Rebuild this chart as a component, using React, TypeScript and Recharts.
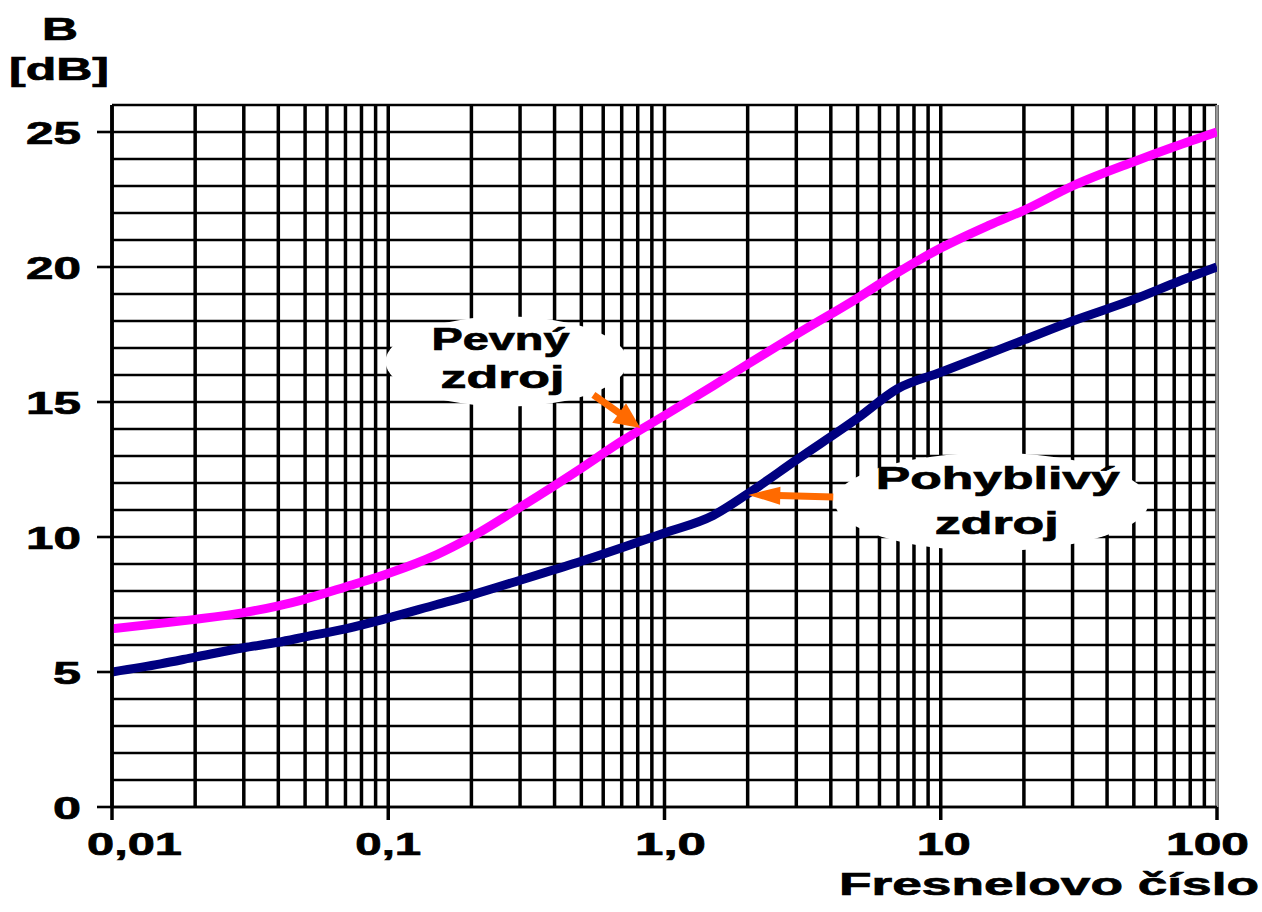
import { LineChart, Line, XAxis, YAxis, CartesianGrid, ReferenceDot, ReferenceLine } from 'recharts';

// Fresnel number (x) and barrier attenuation B in dB for both source types
const fresnel = [0.01, 0.015, 0.02, 0.03, 0.04, 0.05, 0.07, 0.1, 0.15, 0.2, 0.3, 0.5, 0.7, 1, 1.5, 2, 3, 5, 7, 10, 15, 20, 30, 50, 70, 100];
const pevnyZdroj = [6.6, 6.8, 6.95, 7.2, 7.45, 7.7, 8.15, 8.65, 9.35, 10.0, 11.1, 12.55, 13.55, 14.5, 15.6, 16.4, 17.5, 18.85, 19.8, 20.7, 21.55, 22.1, 23.0, 23.9, 24.45, 25.0];
const pohyblivyZdroj = [5.0, 5.3, 5.55, 5.9, 6.1, 6.3, 6.6, 7.0, 7.5, 7.85, 8.4, 9.1, 9.6, 10.15, 10.8, 11.6, 12.85, 14.4, 15.5, 16.1, 16.8, 17.3, 18.0, 18.8, 19.4, 20.0];

// log paper grid
const xGridTicks = [
  0.01, 0.02, 0.03, 0.04, 0.05, 0.06, 0.07, 0.08, 0.09,
  0.1, 0.2, 0.3, 0.4, 0.5, 0.6, 0.7, 0.8, 0.9,
  1, 2, 3, 4, 5, 6, 7, 8, 9,
  10, 20, 30, 40, 50, 60, 70, 80, 90,
  100,
];
const xLabelValues = [0.01, 0.1, 1, 10, 100];
const xLabels = ['0,01', '0,1', '1,0', '10', '100'];
const yGridTicks = [0, 1, 2, 3, 4, 5, 6, 7, 8, 9, 10, 11, 12, 13, 14, 15, 16, 17, 18, 19, 20, 21, 22, 23, 24, 25, 26];
const yLabelValues = [0, 5, 10, 15, 20, 25];

const data = fresnel.map((f, i) => ({ f, pevny: pevnyZdroj[i], pohyblivy: pohyblivyZdroj[i] }));

const FONT = '"Liberation Sans", Arial, sans-serif';
const ORANGE = '#ff6a00';

// the original scan is stretched sideways, so text widths are forced with textLength
function Stretch({ x, y, w, anchor = 'middle', size = 32, children }: any) {
  return (
    <text x={x} y={y} textAnchor={anchor} fontFamily={FONT} fontWeight="bold" fontSize={size} fill="#000"
      stroke="#000" strokeWidth={0.7} textLength={w} lengthAdjust="spacingAndGlyphs">
      {children}
    </text>
  );
}

const xLabelWidths = [95, 66, 71, 54, 83];
function XTick({ x, y, payload }: any) {
  const i = xLabelValues.findIndex(v => Math.abs(v - payload.value) < 1e-9);
  if (i < 0) return <g />;
  let anchor = 'middle', lx = x;
  if (i === 0) { anchor = 'start'; lx = x - 25; }
  else if (i === xLabels.length - 1) { anchor = 'end'; lx = x + 32; }
  else if (i === 2) lx = x + 6;
  else if (i === 3) lx = x + 3;
  return (
    <g>
      <line x1={x} x2={x} y1={y} y2={y + 13} stroke="#000" strokeWidth={3.5} />
      <Stretch x={lx} y={y + 48} w={xLabelWidths[i]} anchor={anchor}>{xLabels[i]}</Stretch>
    </g>
  );
}

function YTick({ x, y, payload }: any) {
  if (!yLabelValues.includes(payload.value)) return <g />;
  const s = String(payload.value);
  return (
    <g>
      <line x1={x - 15} x2={x} y1={y} y2={y} stroke="#000" strokeWidth={2.6} />
      <Stretch x={x - 31} y={y + 11.5} w={s.length === 2 ? 55 : 28} anchor="end">{s}</Stretch>
    </g>
  );
}

function Bubble({ cx, cy, rx, ry, lines }: any) {
  return (
    <g>
      <ellipse cx={cx} cy={cy} rx={rx} ry={ry} fill="#fff" />
      {lines.map((l: any, k: number) => (
        <Stretch key={k} x={cx + l.dx} y={cy + l.dy} w={l.w} size={31}>{l.t}</Stretch>
      ))}
    </g>
  );
}

function Arrow({ cx, cy, tx, ty, head, half }: any) {
  const len = Math.hypot(tx, ty);
  const ux = -tx / len, uy = -ty / len;
  const bx = cx - ux * head, by = cy - uy * head;
  const px = -uy, py = ux;
  return (
    <g>
      <line x1={cx + tx} y1={cy + ty} x2={bx + ux * 2} y2={by + uy * 2} stroke={ORANGE} strokeWidth={7} />
      <polygon points={`${cx},${cy} ${bx + px * half},${by + py * half} ${bx - px * half},${by - py * half}`} fill={ORANGE} />
    </g>
  );
}

export default function App() {
  return (
    <div style={{ position: 'absolute', left: 0, top: 0, width: 1262, height: 912, background: '#fff' }}>
      <LineChart width={1262} height={912} data={data} margin={{ top: 105, right: 45, bottom: 45, left: 0 }}>
        <CartesianGrid horizontal={false} stroke="#000" strokeWidth={3.5} />
        <CartesianGrid vertical={false} stroke="#000" strokeWidth={2.6} />
        <XAxis dataKey="f" type="number" scale="log" domain={[0.01, 100]} ticks={xGridTicks} interval={0}
          allowDataOverflow height={60} tickSize={0} tickMargin={0} tickLine={false}
          axisLine={{ stroke: '#000', strokeWidth: 2.6 }} tick={<XTick />} />
        <YAxis type="number" domain={[0, 26]} ticks={yGridTicks} interval={0} width={112}
          tickSize={0} tickMargin={0} tickLine={false}
          axisLine={{ stroke: '#000', strokeWidth: 3.5 }} tick={<YTick />} />
        <ReferenceLine x={100} stroke="#9a9a9a" strokeWidth={3} />
        <Line dataKey="pevny" type="monotone" stroke="#ff00ff" strokeWidth={9} dot={false} isAnimationActive={false} />
        <Line dataKey="pohyblivy" type="monotone" stroke="#000080" strokeWidth={9} dot={false} isAnimationActive={false} />
        <ReferenceDot x={0.268} y={16.5} r={1}
          shape={(p: any) => <Bubble cx={p.cx} cy={p.cy} rx={121} ry={45}
            lines={[{ t: 'Pevný', dx: -6, dy: -12, w: 138 }, { t: 'zdroj', dx: -4, dy: 26, w: 124 }]} />} />
        <ReferenceDot x={15.3} y={11.3} r={1}
          shape={(p: any) => <Bubble cx={p.cx} cy={p.cy} rx={157} ry={49}
            lines={[{ t: 'Pohyblivý', dx: 6, dy: -13, w: 244 }, { t: 'zdroj', dx: 5, dy: 32, w: 124 }]} />} />
        <ReferenceDot x={0.818} y={14.04} r={1}
          shape={(p: any) => <Arrow cx={p.cx} cy={p.cy} tx={-47} ty={-33} head={26} half={12} />} />
        <ReferenceDot x={2.01} y={11.56} r={1}
          shape={(p: any) => <Arrow cx={p.cx} cy={p.cy} tx={85} ty={2} head={32} half={9} />} />
      </LineChart>
      <svg width={1262} height={912} style={{ position: 'absolute', left: 0, top: 0, pointerEvents: 'none' }}>
        <Stretch x={60} y={40} w={36}>B</Stretch>
        <Stretch x={59} y={80} w={100}>[dB]</Stretch>
        <Stretch x={1259} y={895} w={420} anchor="end">Fresnelovo číslo</Stretch>
      </svg>
    </div>
  );
}
